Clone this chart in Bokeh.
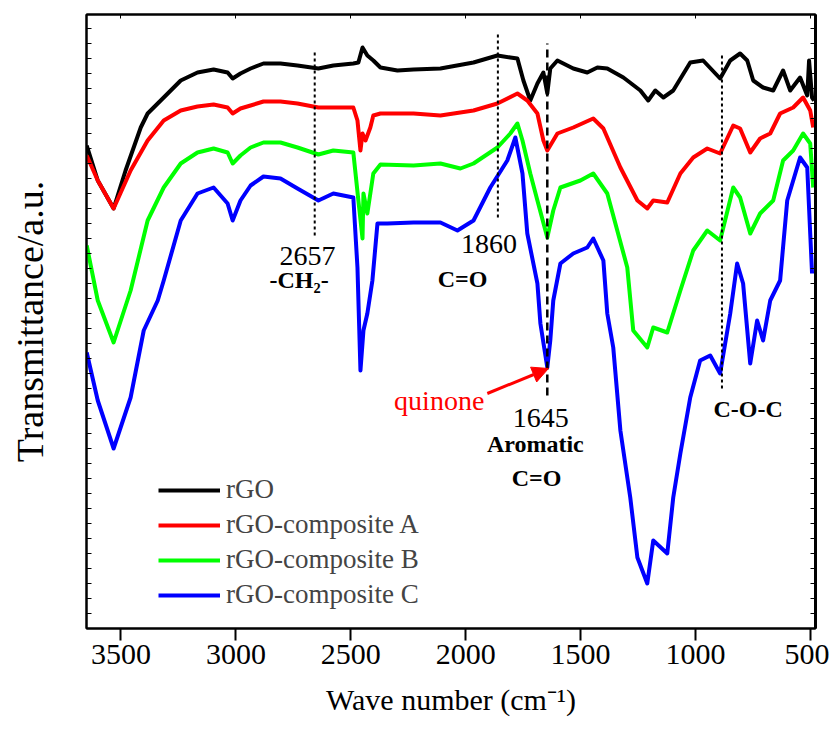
from bokeh.plotting import figure
from bokeh.models import Range1d, LinearAxis, FixedTicker, Label, Arrow, NormalHead
from bokeh.embed import file_html
from bokeh.resources import INLINE

# ---- data (wavenumber in cm^-1, transmittance in a.u.) ----
rgo_wn = [3649,3601,3532,3480,3414,3384,3314,3240,3167,3097,3036,3014,2980,2936,2880,2806,2732,2641,2576,2489,2467,2449,2428,2402,2371,2297,2227,2110,1966,1862,1806,1775,1749,1719,1688,1662,1645,1632,1601,1532,1471,1427,1384,1314,1240,1206,1175,1140,1097,1023,967,893,849,806,775,749,706,662,619,588,545,514,506,493,484]
rgo_t = [483,448,420,458,501,515,531,548,556,559,556,550,555,560,565,565,563,560,563,565,566,581,573,568,561,558,559,560,566,573,571,570,548,528,545,556,535,560,568,560,556,561,560,551,538,528,538,531,538,566,568,550,568,575,568,548,541,538,558,538,551,533,568,531,528]

compA_wn = [3649,3601,3532,3458,3384,3314,3240,3167,3097,3036,3014,2980,2936,2880,2806,2732,2641,2489,2471,2458,2449,2436,2415,2402,2371,2227,2110,1966,1862,1775,1732,1688,1662,1645,1601,1532,1445,1401,1327,1253,1210,1184,1123,1066,1010,949,893,836,806,762,719,675,632,575,532,501,488]
compA_t = [473,448,420,458,488,508,518,522,524,521,515,520,523,527,527,525,521,521,508,478,495,488,501,513,515,515,513,518,525,535,528,515,488,478,495,501,510,500,461,428,420,428,426,455,471,480,475,503,500,476,490,495,515,521,531,518,501]

compB_wn = [3649,3601,3532,3458,3384,3314,3240,3167,3097,3036,3014,2980,2936,2880,2806,2732,2641,2576,2489,2467,2449,2445,2428,2402,2371,2227,2110,2023,1966,1862,1806,1775,1753,1719,1688,1645,1619,1588,1501,1445,1384,1297,1271,1210,1184,1123,1066,1010,949,893,836,806,762,719,662,619,575,532,501,488]
compB_t = [383,328,286,338,408,441,465,476,480,476,465,473,481,486,486,481,474,478,476,428,390,435,415,455,464,463,465,460,465,481,495,505,488,455,428,391,418,441,448,455,435,361,298,281,301,296,338,378,398,388,441,431,395,415,428,468,478,495,485,441]

compC_wn = [3649,3601,3532,3458,3401,3340,3314,3240,3167,3097,3036,3014,2980,2936,2880,2806,2732,2641,2576,2489,2471,2458,2445,2428,2406,2384,2341,2227,2110,2036,1966,1893,1819,1784,1753,1732,1688,1675,1645,1632,1619,1588,1532,1471,1445,1401,1384,1358,1327,1284,1253,1210,1184,1123,1097,1066,1023,980,936,893,849,819,793,762,732,706,675,632,601,545,514,501,493]
compC_t = [276,228,180,231,298,328,348,408,435,441,425,408,428,443,452,450,440,428,435,431,361,258,298,315,348,405,405,406,406,398,408,441,468,491,455,395,345,305,261,288,328,365,375,381,390,368,315,281,198,131,71,45,88,75,131,175,231,268,273,255,315,365,345,265,308,288,328,348,428,471,461,395,355]

series_names = ["rGO", "rGO-composite A", "rGO-composite B", "rGO-composite C"]
series_colors = ["#000000", "#ff0000", "#00ff00", "#0000ff"]
x_ticks = [3500, 3000, 2500, 2000, 1500, 1000, 500]
band_wn = [2657, 1860, 1645, 885]

FONT = "Liberation Serif"

p = figure(width=829, height=728,
           x_range=Range1d(3650, 478), y_range=Range1d(0, 614),
           output_backend="svg", toolbar_location=None,
           min_border_left=86, min_border_right=14,
           min_border_top=14, min_border_bottom=100)
p.grid.visible = False
p.outline_line_color = "black"
p.outline_line_width = 2
p.background_fill_color = "white"
p.border_fill_color = "white"

for xs, ys, name, col in zip([rgo_wn, compA_wn, compB_wn, compC_wn],
                             [rgo_t, compA_t, compB_t, compC_t],
                             series_names, series_colors):
    p.line(xs, ys, line_color=col, line_width=4, line_join="round",
           legend_label=name)

# bottom axis
xa = p.xaxis[0]
xa.ticker = FixedTicker(ticks=x_ticks)
xa.major_tick_out = 12
xa.major_tick_in = 0
xa.minor_tick_out = 0
xa.minor_tick_in = 0
xa.axis_line_width = 2
xa.major_tick_line_width = 2
xa.major_label_text_font = FONT
xa.major_label_text_font_size = "30px"
xa.major_label_text_color = "black"
xa.major_label_standoff = 4
xa.axis_label = "Wave number (cm\u207b\u00b9)"
xa.axis_label_text_font = FONT
xa.axis_label_text_font_size = "30px"
xa.axis_label_text_font_style = "normal"
xa.axis_label_text_color = "black"
xa.axis_label_standoff = 16

y_ticks = list(range(0, 615, 15))
blank_y = {t: "" for t in y_ticks}
blank_x = {t: "" for t in x_ticks}

ya = p.yaxis[0]
ya.ticker = FixedTicker(ticks=y_ticks)
ya.major_tick_in = 5
ya.major_tick_out = 0
ya.minor_tick_in = 0
ya.minor_tick_out = 0
ya.axis_line_width = 2
ya.major_label_overrides = blank_y
ya.major_label_standoff = 0
ya.axis_label = "Transmittance/a.u."
ya.axis_label_text_font = FONT
ya.axis_label_text_font_size = "38px"
ya.axis_label_text_font_style = "normal"
ya.axis_label_text_color = "black"
ya.axis_label_standoff = 36

top = LinearAxis(ticker=FixedTicker(ticks=x_ticks), major_tick_in=4, major_tick_out=0,
                 minor_tick_in=0, minor_tick_out=0, axis_line_width=2,
                 major_label_overrides=blank_x, major_label_standoff=0)
p.add_layout(top, "above")
right = LinearAxis(ticker=FixedTicker(ticks=y_ticks), major_tick_in=5, major_tick_out=0,
                   minor_tick_in=0, minor_tick_out=0, axis_line_width=3,
                   major_label_overrides=blank_y, major_label_standoff=0)
p.add_layout(right, "right")

# band marker lines
p.segment(x0=[band_wn[0]], y0=[393], x1=[band_wn[0]], y1=[578], line_color="black", line_width=2, line_dash="3 3")
p.segment(x0=[band_wn[1]], y0=[411], x1=[band_wn[1]], y1=[595], line_color="black", line_width=2, line_dash="3 3")
p.segment(x0=[band_wn[2]], y0=[233], x1=[band_wn[2]], y1=[585], line_color="black", line_width=2.5, line_dash="8 5")
p.segment(x0=[band_wn[3]], y0=[240], x1=[band_wn[3]], y1=[573], line_color="black", line_width=2, line_dash="3 3")

def lab(x, y, t, size, bold=False, color="black", align="center"):
    p.add_layout(Label(x=x, y=y, text=t, text_font=FONT, text_font_size=size,
                       text_font_style="bold" if bold else "normal",
                       text_color=color, text_align=align, text_baseline="alphabetic"))

lab(2688, 373, "2657", "28px")
lab(2725, 349, "-CH\u2082-", "24px", bold=True)
lab(1899, 385, "1860", "28px")
lab(2014, 350, "C=O", "24px", bold=True)
lab(1919, 228, "quinone", "28px", color="#ff0000", align="right")
lab(1673, 211, "1645", "28px")
lab(1697, 185, "Aromatic", "24px", bold=True)
lab(1692, 151, "C=O", "24px", bold=True)
lab(771, 220, "C-O-C", "24px", bold=True)

p.add_layout(Arrow(end=NormalHead(size=16, fill_color="#ff0000", line_color="#ff0000"),
                   x_start=1906, y_start=235, x_end=1640, y_end=260,
                   line_color="#ff0000", line_width=3))

lg = p.legend[0]
lg.location = (72, 18)
lg.label_text_font = FONT
lg.label_text_font_size = "27px"
lg.glyph_width = 62
lg.glyph_height = 30
lg.label_height = 30
lg.spacing = 4
lg.padding = 0
lg.margin = 0
lg.label_standoff = 6
lg.border_line_alpha = 0
lg.background_fill_alpha = 0

open("out.html", "w").write(file_html(p, INLINE))
